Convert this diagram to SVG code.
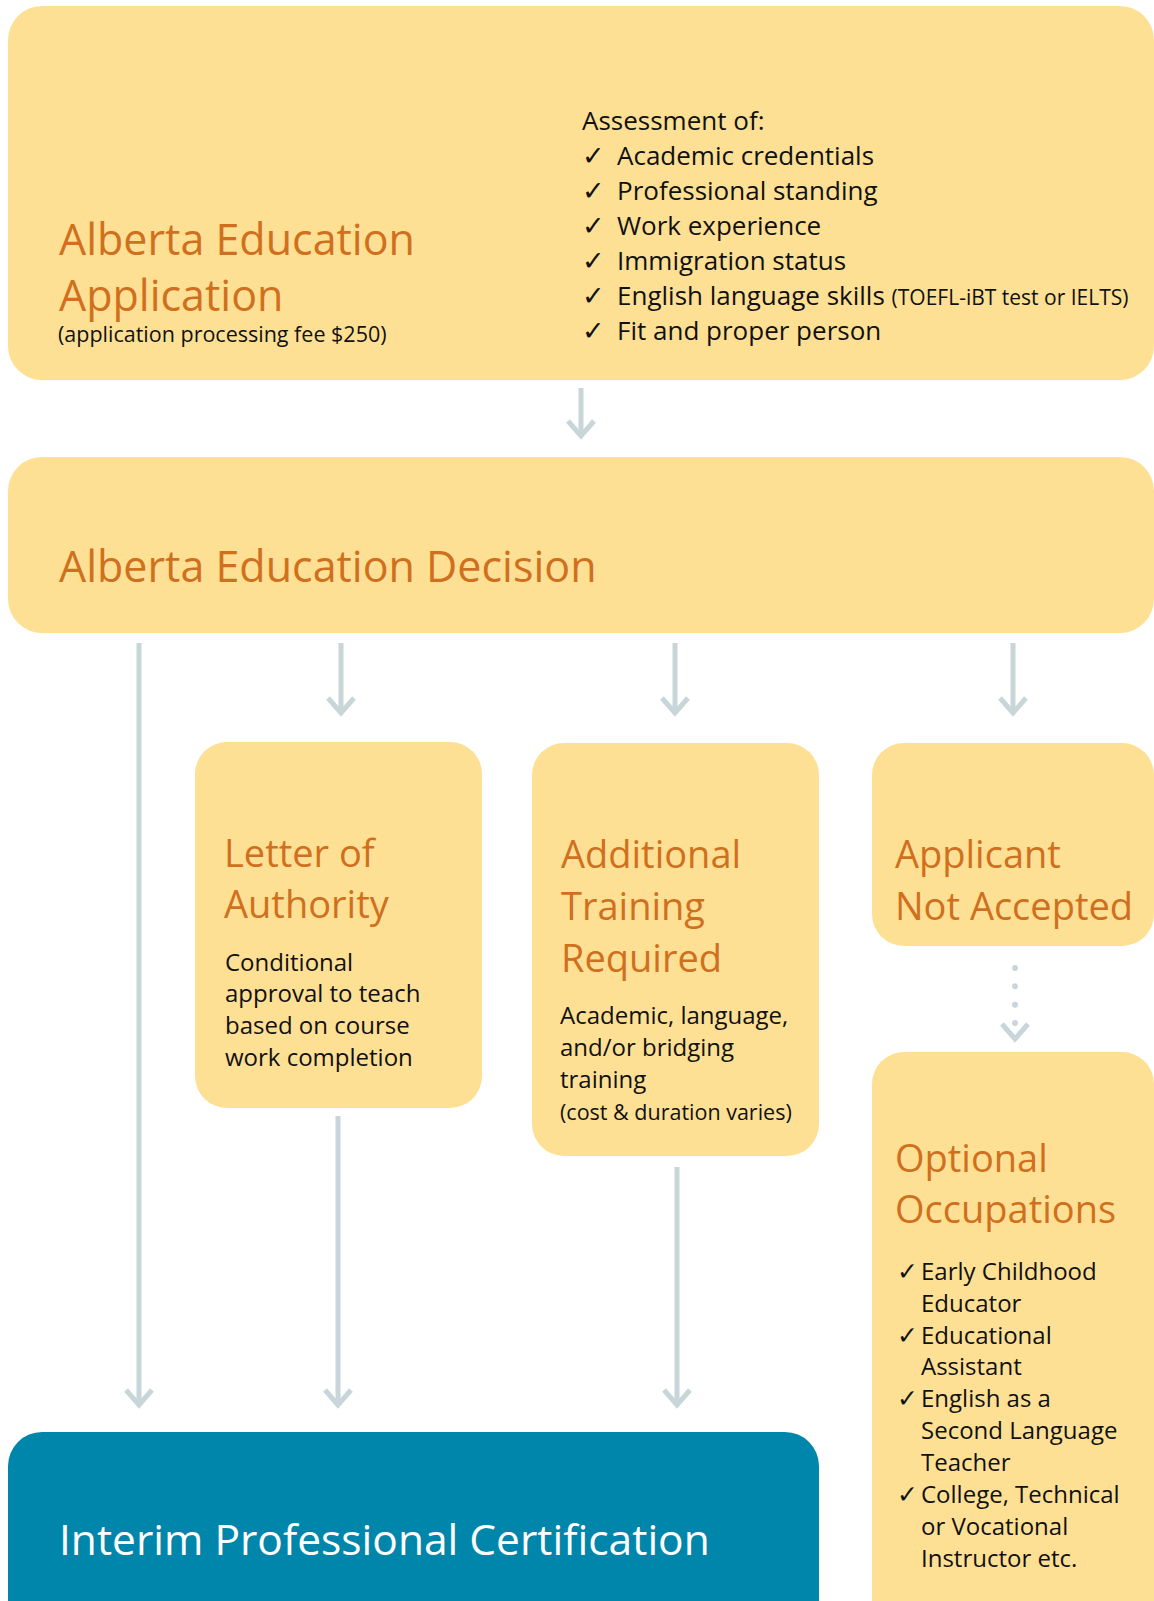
<svg xmlns="http://www.w3.org/2000/svg" width="1154" height="1601" viewBox="0 0 1154 1601">
<defs>
<style>
.box{fill:#FEE095}
.blue{fill:#0086AA}
.t{font-family:"Open Sans","Noto Sans","DejaVu Sans",sans-serif}
.big{font-size:43px;fill:#D0701E}
.mid{font-size:38px;fill:#D0701E}
.w{font-size:42.5px;fill:#FFFFFF}
.lst{font-size:26px;fill:#111111}
.body{font-size:24px;fill:#111111}
.sm{font-size:21.5px;fill:#111111}
.ck{font-family:"DejaVu Sans",sans-serif;font-size:27px;fill:#111111}
.ck2{font-family:"DejaVu Sans",sans-serif;font-size:25px;fill:#111111}
.con{stroke:#C8D6D9;stroke-width:5;fill:none}
.dot{stroke:#C8D6D9;stroke-width:6;stroke-linecap:round;stroke-dasharray:0 18.33;fill:none}
</style>
<marker id="chev" markerUnits="userSpaceOnUse" orient="auto" refX="0" refY="0" markerWidth="40" markerHeight="40" viewBox="-20 -20 40 40" overflow="visible">
<path d="M -15 -13 L 0 0 L -15 13" fill="none" stroke="#C8D6D9" stroke-width="5" stroke-dasharray="none"/>
</marker>
</defs>
<rect width="1154" height="1601" fill="#FFFFFF"/>

<g id="connectors">
<line class="con" x1="581" y1="388" x2="581" y2="436" marker-end="url(#chev)"/>
<line class="con" x1="139" y1="643" x2="139" y2="1405" marker-end="url(#chev)"/>
<line class="con" x1="341" y1="643" x2="341" y2="713" marker-end="url(#chev)"/>
<line class="con" x1="675" y1="643" x2="675" y2="713" marker-end="url(#chev)"/>
<line class="con" x1="1013" y1="643" x2="1013" y2="713" marker-end="url(#chev)"/>
<line class="con" x1="338" y1="1116" x2="338" y2="1405" marker-end="url(#chev)"/>
<line class="con" x1="677" y1="1167" x2="677" y2="1405" marker-end="url(#chev)"/>
<path class="dot" d="M 1015 968 L 1015 1039"/>
<line x1="1015" y1="1030" x2="1015" y2="1039" stroke="none" marker-end="url(#chev)"/>
</g>

<g id="application">
<rect class="box" x="8" y="6" width="1146" height="374" rx="34"/>
<text class="t big" x="59" y="255">Alberta Education</text>
<text class="t big" x="59" y="311">Application</text>
<text class="t sm" x="58" y="342">(application processing fee $250)</text>
<text class="t lst" x="582" y="130">Assessment of:</text>
<text class="ck" x="582" y="164.5">✓</text>
<text class="t lst" x="617" y="164.5">Academic credentials</text>
<text class="ck" x="582" y="199.5">✓</text>
<text class="t lst" x="617" y="199.5">Professional standing</text>
<text class="ck" x="582" y="234.5">✓</text>
<text class="t lst" x="617" y="234.5">Work experience</text>
<text class="ck" x="582" y="269.5">✓</text>
<text class="t lst" x="617" y="269.5">Immigration status</text>
<text class="ck" x="582" y="304.5">✓</text>
<text class="t lst" x="617" y="304.5">English language skills <tspan font-size="21px">(TOEFL-iBT test or IELTS)</tspan></text>
<text class="ck" x="582" y="339.5">✓</text>
<text class="t lst" x="617" y="339.5">Fit and proper person</text>
</g>

<g id="decision">
<rect class="box" x="8" y="457" width="1146" height="176" rx="34"/>
<text class="t big" x="59" y="582">Alberta Education Decision</text>
</g>

<g id="letter">
<rect class="box" x="195" y="742" width="287" height="366" rx="32"/>
<text class="t mid" x="224" y="867">Letter of</text>
<text class="t mid" x="224" y="918">Authority</text>
<text class="t body" x="225" y="971">Conditional</text>
<text class="t body" x="225" y="1002">approval to teach</text>
<text class="t body" x="225" y="1034">based on course</text>
<text class="t body" x="225" y="1066">work completion</text>
</g>

<g id="training">
<rect class="box" x="532" y="743" width="287" height="413" rx="32"/>
<text class="t mid" x="561" y="868">Additional</text>
<text class="t mid" x="561" y="920">Training</text>
<text class="t mid" x="561" y="972">Required</text>
<text class="t body" x="560" y="1024">Academic, language,</text>
<text class="t body" x="560" y="1056">and/or bridging</text>
<text class="t body" x="560" y="1088">training</text>
<text class="t sm" x="560" y="1120">(cost &amp; duration varies)</text>
</g>

<g id="not-accepted">
<rect class="box" x="872" y="743" width="282" height="203" rx="32"/>
<text class="t mid" x="895" y="868">Applicant</text>
<text class="t mid" x="895" y="920">Not Accepted</text>
</g>

<g id="optional">
<rect class="box" x="872" y="1052" width="282" height="600" rx="32"/>
<text class="t mid" x="895" y="1172">Optional</text>
<text class="t mid" x="895" y="1223">Occupations</text>
<text class="ck2" x="897" y="1280">✓</text>
<text class="t body" x="921" y="1280">Early Childhood</text>
<text class="t body" x="921" y="1312">Educator</text>
<text class="ck2" x="897" y="1344">✓</text>
<text class="t body" x="921" y="1344">Educational</text>
<text class="t body" x="921" y="1375">Assistant</text>
<text class="ck2" x="897" y="1407">✓</text>
<text class="t body" x="921" y="1407">English as a</text>
<text class="t body" x="921" y="1439">Second Language</text>
<text class="t body" x="921" y="1471">Teacher</text>
<text class="ck2" x="897" y="1503">✓</text>
<text class="t body" x="921" y="1503">College, Technical</text>
<text class="t body" x="921" y="1535">or Vocational</text>
<text class="t body" x="921" y="1567">Instructor etc.</text>
</g>

<g id="interim">
<rect class="blue" x="8" y="1432" width="811" height="220" rx="34"/>
<text class="t w" x="59" y="1555">Interim Professional Certification</text>
</g>
</svg>
